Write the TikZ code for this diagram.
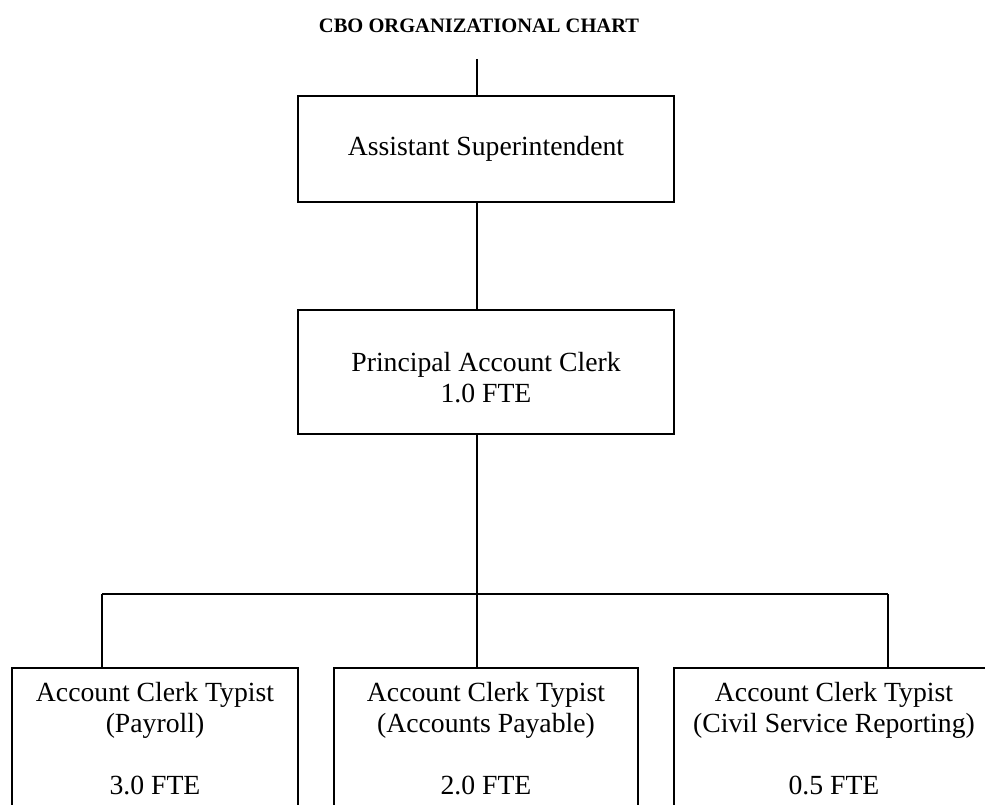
\documentclass[tikz,border=0pt]{standalone}
\usepackage{fontspec}
\setmainfont{Liberation Serif}

\begin{document}
\begin{tikzpicture}[x=1pt, y=-1pt, line width=1.8pt,
    box/.style={draw, align=center, inner sep=0pt, font=\fontsize{27.7}{31}\selectfont},
    child/.style={box, anchor=north, inner ysep=14pt}]
  \useasboundingbox (0,0) rectangle (985,805);
  \clip (0,0) rectangle (985,805);
  \node (title) [anchor=base, font=\fontsize{20.5}{24}\selectfont\bfseries] at (479,33) {CBO ORGANIZATIONAL CHART};
  \node (asst) [box, minimum width=376pt, minimum height=106pt] at (486,149) {Assistant Superintendent};
  \node (pac) [box, minimum width=376pt, minimum height=124pt] at (486,372) {\rule{0pt}{31pt}Principal Account Clerk\\1.0 FTE};
  \node (payroll) [child, minimum width=286pt] at (155,667) {Account Clerk Typist\\(Payroll)\\[31pt]3.0 FTE};
  \node (payable) [child, minimum width=304pt] at (486,667) {Account Clerk Typist\\(Accounts Payable)\\[31pt]2.0 FTE};
  \node (civil) [child, minimum width=320pt] at (834,667) {Account Clerk Typist\\(Civil Service Reporting)\\[31pt]0.5 FTE};
  % spine and bar
  \coordinate (top) at (477,59);
  \coordinate (bar) at (477,594);
  \coordinate (barL) at (102,594);
  \coordinate (barR) at (888,594);
  \draw (top) -- (top |- asst.north);
  \draw (asst.south -| top) -- (pac.north -| top);
  \draw (pac.south -| top) -- (bar);
  \draw (barL) -- (barR);
  \draw (barL) -- (barL |- payroll.north);
  \draw (bar) -- (bar |- payable.north);
  \draw (barR) -- (barR |- civil.north);
\end{tikzpicture}
\end{document}
